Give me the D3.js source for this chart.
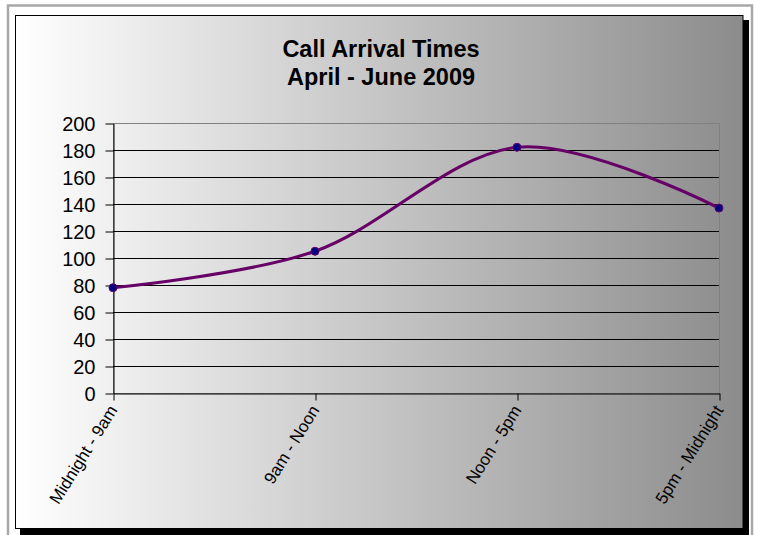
<!DOCTYPE html>
<html><head><meta charset="utf-8">
<script src="https://cdn.jsdelivr.net/npm/d3@7"></script>
<style>html,body{margin:0;padding:0;background:#fff;}svg{display:block;}</style>
</head><body>
<script>
const categories = ["Midnight - 9am", "9am - Noon", "Noon - 5pm", "5pm - Midnight"];
const values = [78, 105, 182, 137];
const yTicks = [0, 20, 40, 60, 80, 100, 120, 140, 160, 180, 200];
const titleLines = ["Call Arrival Times", "April - June 2009"];

const W = 758, H = 535;
const svg = d3.select("body").append("svg").attr("width", W).attr("height", H);
const defs = svg.append("defs");
const grad = defs.append("linearGradient").attr("id", "bg").attr("x1", "0").attr("x2", "1").attr("y1", "0").attr("y2", "0");
grad.append("stop").attr("offset", "0").attr("stop-color", "#ffffff");
grad.append("stop").attr("offset", "1").attr("stop-color", "#8c8c8c");

// outer frame
svg.append("rect").attr("x", 8).attr("y", 5.5).attr("width", 744).attr("height", 540)
  .attr("fill", "#fff").attr("stroke", "#a8a8a8").attr("stroke-width", 2.5);
// shadow
svg.append("rect").attr("x", 20).attr("y", 20).attr("width", 729).attr("height", 515).attr("fill", "#000");
// chart box
svg.append("rect").attr("x", 15.5).attr("y", 15.5).attr("width", 727.5).attr("height", 513)
  .attr("fill", "url(#bg)").attr("stroke", "#000").attr("stroke-width", 1);

// title
svg.append("g").selectAll("text").data(titleLines).join("text")
  .attr("x", 381).attr("y", (d, i) => 57 + i * 28)
  .attr("text-anchor", "middle")
  .attr("font-family", "Liberation Sans, Arial, sans-serif")
  .attr("font-weight", "bold").attr("font-size", 23.5).attr("fill", "#000")
  .text(d => d);

const x = d3.scalePoint().domain(categories).range([113, 719]);
const y = d3.scaleLinear().domain([0, 200]).range([393, 123]);

// plot border
svg.append("rect").attr("x", 113.5).attr("y", 123.5).attr("width", 606).attr("height", 270)
  .attr("fill", "none").attr("stroke", "#808080").attr("stroke-width", 1);

// gridlines
svg.append("g").selectAll("line").data(yTicks.filter(t => t > 0 && t < 200)).join("line")
  .attr("x1", 113).attr("x2", 719)
  .attr("y1", d => Math.round(y(d)) + 0.5).attr("y2", d => Math.round(y(d)) + 0.5)
  .attr("stroke", "#000").attr("stroke-width", 1);

// y axis
const yAxis = svg.append("g").attr("transform", "translate(113.5,0.5)")
  .call(d3.axisLeft(y).tickValues(yTicks).tickSize(8).tickPadding(10).tickSizeOuter(0));
yAxis.select(".domain").attr("stroke", "#000");
yAxis.selectAll(".tick line").attr("stroke", "#000");
yAxis.selectAll("text").attr("font-family", "Liberation Sans, Arial, sans-serif")
  .attr("font-size", 20).attr("fill", "#000").attr("dy", "0.36em");

// x axis
const xAxis = svg.append("g").attr("transform", "translate(0.5,393.5)")
  .call(d3.axisBottom(x).tickSize(7).tickSizeOuter(0).tickFormat(""));
xAxis.select(".domain").attr("stroke", "#000");
xAxis.selectAll(".tick line").attr("stroke", "#000");

svg.append("g").selectAll("text").data(categories).join("text")
  .attr("transform", d => `translate(${x(d) + 5},${410}) rotate(-58)`)
  .attr("text-anchor", "end")
  .attr("font-family", "Liberation Sans, Arial, sans-serif")
  .attr("font-size", 17).attr("fill", "#000")
  .text(d => d);

// line
const line = d3.line().x((d, i) => x(categories[i])).y(d => y(d)).curve(d3.curveCatmullRom.alpha(0));
svg.append("path").datum(values).attr("d", line)
  .attr("fill", "none").attr("stroke", "#660066").attr("stroke-width", 3);

svg.append("g").selectAll("circle").data(values).join("circle")
  .attr("cx", (d, i) => x(categories[i])).attr("cy", d => y(d)).attr("r", 4)
  .attr("fill", "#000080").attr("stroke", "#660066").attr("stroke-width", 1);
</script>
</body></html>
